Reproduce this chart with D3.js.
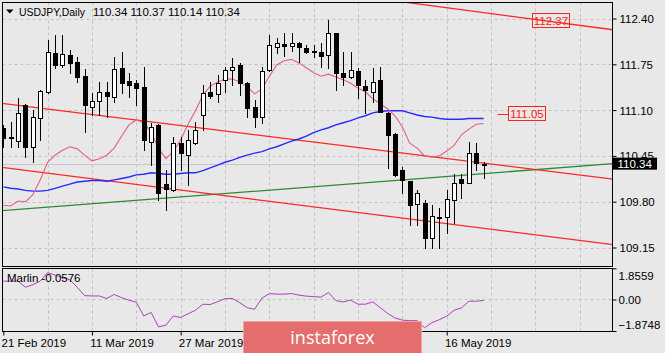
<!DOCTYPE html>
<html>
<head>
<meta charset="utf-8">
<title>USDJPY Daily</title>
<script src="https://cdn.jsdelivr.net/npm/d3@7"></script>
<style>
body { margin: 0; background: #e8e8e8; }
svg text { font-family: "Liberation Sans", Arial, sans-serif; font-size: 11.5px; fill: #000; }
</style>
</head>
<body>
<script>

var dates = ["2019-02-21","2019-02-22","2019-02-25","2019-02-26","2019-02-27","2019-02-28",
	"2019-03-01","2019-03-04","2019-03-05","2019-03-06","2019-03-07","2019-03-08",
	"2019-03-11","2019-03-12","2019-03-13","2019-03-14","2019-03-15","2019-03-18",
	"2019-03-19","2019-03-20","2019-03-21","2019-03-22","2019-03-25","2019-03-26",
	"2019-03-27","2019-03-28","2019-03-29","2019-04-01","2019-04-02","2019-04-03",
	"2019-04-04","2019-04-05","2019-04-08","2019-04-09","2019-04-10","2019-04-11",
	"2019-04-12","2019-04-15","2019-04-16","2019-04-17","2019-04-18","2019-04-19",
	"2019-04-22","2019-04-23","2019-04-24","2019-04-25","2019-04-26","2019-04-29",
	"2019-04-30","2019-05-01","2019-05-02","2019-05-03","2019-05-06","2019-05-07",
	"2019-05-08","2019-05-09","2019-05-10","2019-05-13","2019-05-14","2019-05-15",
	"2019-05-16","2019-05-17","2019-05-20","2019-05-21","2019-05-22","2019-05-23"];

var opens = [110.85,110.72,110.66,111.17,110.58,110.99,111.36,111.91,111.74,111.88,
	111.78,111.58,111.14,111.23,111.36,111.29,111.70,111.51,111.49,111.43,
	110.65,110.89,110.05,109.97,110.63,110.46,110.63,111.03,111.36,111.33,
	111.53,111.67,111.74,111.49,111.14,111.00,111.67,112.00,112.04,112.01,
	112.05,111.98,111.94,111.93,111.88,112.19,111.63,111.57,111.66,111.44,
	111.36,111.53,111.06,110.76,110.25,110.09,109.77,109.78,109.29,109.58,
	109.58,109.82,110.12,110.07,110.49,110.34];
var highs = [110.89,110.93,111.27,111.18,111.10,111.38,112.10,112.17,112.17,111.95,
	111.85,111.68,111.34,111.50,111.50,111.85,111.93,111.63,111.53,111.71,
	110.92,110.90,110.25,110.72,110.72,110.82,110.93,111.46,111.50,111.60,
	111.71,111.84,111.77,111.50,111.24,111.71,112.17,112.12,112.19,112.19,
	112.06,112.02,112.02,112.05,112.38,112.20,111.93,111.93,111.70,111.53,
	111.70,111.71,111.07,110.77,110.29,110.10,109.97,109.82,109.75,109.71,
	109.97,110.19,110.19,110.65,110.63,110.37];
var lows = [110.58,110.58,110.58,110.43,110.36,110.68,111.34,111.70,111.71,111.63,
	111.50,110.79,111.03,111.03,111.00,111.22,111.34,111.29,111.17,110.53,
	110.32,109.82,109.68,109.95,110.25,110.04,110.62,110.82,111.27,111.22,
	111.36,111.46,111.31,111.00,110.86,110.92,111.66,111.91,111.87,111.94,
	111.78,111.91,111.85,111.71,111.70,111.39,111.46,111.56,111.27,111.06,
	111.22,111.07,110.28,110.16,109.92,109.47,109.47,109.14,109.14,109.14,
	109.36,109.50,109.85,110.06,110.25,110.14];
var closes = [110.70,110.70,111.06,110.58,111.00,111.37,111.93,111.74,111.90,111.77,
	111.57,111.17,111.23,111.36,111.30,111.68,111.49,111.46,111.41,110.68,
	110.86,109.92,109.98,110.63,110.49,110.68,110.82,111.34,111.30,111.49,
	111.67,111.71,111.49,111.13,111.00,111.66,112.02,112.05,112.01,112.05,
	112.00,111.93,111.93,111.87,112.19,111.63,111.57,111.67,111.46,111.39,
	111.50,111.07,110.75,110.18,110.11,109.75,109.92,109.29,109.60,109.57,
	109.84,110.07,110.07,110.49,110.35,110.34];

// fast (pink) and slow (blue) moving averages
var maFast = [109.75,109.74,109.81,109.80,109.90,110.11,110.36,110.46,110.53,110.58,
	110.55,110.46,110.38,110.41,110.46,110.56,110.73,110.89,110.96,110.92,
	110.79,110.56,110.41,110.51,110.68,110.90,111.09,111.31,111.44,111.50,
	111.54,111.54,111.50,111.43,111.33,111.40,111.58,111.74,111.80,111.82,
	111.77,111.70,111.63,111.58,111.61,111.57,111.53,111.48,111.41,111.36,
	111.26,111.19,111.12,111.02,110.86,110.63,110.56,110.45,110.43,110.45,
	110.52,110.60,110.75,110.83,110.90,110.91];
var maSlow = [110.01,109.99,109.98,109.96,109.95,109.95,109.96,109.99,110.02,110.05,
	110.08,110.09,110.10,110.10,110.09,110.11,110.13,110.15,110.18,110.19,
	110.21,110.20,110.19,110.19,110.20,110.21,110.21,110.24,110.28,110.32,
	110.36,110.39,110.43,110.46,110.49,110.51,110.55,110.58,110.62,110.66,
	110.69,110.73,110.78,110.82,110.85,110.89,110.92,110.95,110.99,111.02,
	111.06,111.08,111.09,111.09,111.09,111.06,111.03,111.01,111.00,110.98,
	110.97,110.97,110.97,110.98,110.98,110.98];

var marlin = [1.09,1.09,1.09,0.73,0.88,1.09,1.60,1.45,1.30,1.18,
	0.73,0.23,0.21,0.21,0.06,0.30,0.11,-0.04,-0.16,-0.98,
	-0.77,-1.63,-1.53,-0.98,-1.07,-0.85,-0.64,-0.28,-0.30,-0.13,
	0.05,0.06,-0.19,-0.49,-0.58,0.08,0.35,0.32,0.32,0.35,
	0.26,0.20,0.17,0.14,0.42,-0.07,-0.14,-0.04,-0.28,-0.28,
	-0.14,-0.49,-0.82,-1.10,-1.23,-1.26,-1.26,-1.68,-1.38,-1.20,
	-0.99,-0.64,-0.50,-0.10,-0.10,-0.0576];

var priceTicks = [112.40, 111.75, 111.10, 110.45, 109.80, 109.15];
var marlinTicks = [1.8559, 0, -1.8748];
var dateTickIdx = [0, 12, 24, 36, 48, 60];
var dateLabelIdx = [0, 12, 24, 60]; // the other two sit under the watermark

// trend lines: [bar index, price, bar index, price]
var redLines = [[-0.45, 111.20, 82.5, 110.12], [-0.45, 110.29, 82.5, 109.19], [52.3, 112.66, 82.5, 112.24]];
var greenLines = [[-0.45, 109.67, 82.5, 110.34]];

var last = {o: 110.34, h: 110.37, l: 110.14, c: 110.34};
var levelLabels = [{i: 71.5, p: 112.37, line: false}, {i: 68.3, p: 111.05, line: true}];

var W = 665, H = 353;
var left = 2.5, right = 612.5, mainTop = 2.5, mainBot = 266.5, indTop = 268.5, indBot = 331.5;

var svg = d3.select("body").append("svg").attr("width", W).attr("height", H);
svg.append("rect").attr("width", W).attr("height", H).attr("fill", "#e8e8e8");

var x = d3.scaleLinear().domain([0, 82.5]).range([3.3, 613]);
var y = d3.scaleLinear().domain([109.15, 112.40]).range([247.5, 18.5]);
var ym = d3.scaleLinear().domain([-1.8748, 1.8559]).range([331, 268.3]);

var defs = svg.append("defs");
defs.append("clipPath").attr("id", "clipMain").append("rect")
	.attr("x", left).attr("y", mainTop).attr("width", right - left).attr("height", mainBot - mainTop);
defs.append("clipPath").attr("id", "clipInd").append("rect")
	.attr("x", left).attr("y", indTop).attr("width", right - left).attr("height", indBot - indTop);

// grid
var gridIdx = d3.range(6, 82, 6);
var grid = svg.append("g").attr("stroke", "#c2c2c2").attr("stroke-dasharray", "3,3").attr("stroke-width", 1);
gridIdx.forEach(function(i) {
	var gx = Math.round(x(i)) + 0.5;
	grid.append("line").attr("x1", gx).attr("x2", gx).attr("y1", mainTop).attr("y2", mainBot);
	grid.append("line").attr("x1", gx).attr("x2", gx).attr("y1", indTop).attr("y2", indBot);
});
priceTicks.forEach(function(p) {
	var gy = Math.round(y(p)) + 0.5;
	grid.append("line").attr("x1", left).attr("x2", right).attr("y1", gy).attr("y2", gy);
});
grid.append("line").attr("x1", left).attr("x2", right)
	.attr("y1", Math.round(ym(0)) + 0.5).attr("y2", Math.round(ym(0)) + 0.5);

var main = svg.append("g").attr("clip-path", "url(#clipMain)");

// bid line
var by = Math.round(y(last.c)) + 0.5;
main.append("line").attr("x1", left).attr("x2", right).attr("y1", by).attr("y2", by)
	.attr("stroke", "#c8c8c8").attr("stroke-width", 1);

// trend lines
greenLines.forEach(function(l) {
	main.append("line").attr("x1", x(l[0])).attr("y1", y(l[1])).attr("x2", x(l[2])).attr("y2", y(l[3]))
		.attr("stroke", "#2f8a2f").attr("stroke-width", 1.3);
});
redLines.forEach(function(l) {
	main.append("line").attr("x1", x(l[0])).attr("y1", y(l[1])).attr("x2", x(l[2])).attr("y2", y(l[3]))
		.attr("stroke", "#ff2626").attr("stroke-width", 1.3);
});

// moving averages
var maLine = d3.line().x(function(d, i) { return x(i); }).y(function(d) { return y(d); });
main.append("path").datum(maSlow).attr("d", maLine).attr("fill", "none").attr("stroke", "#2a2aff").attr("stroke-width", 1.4);
main.append("path").datum(maFast).attr("d", maLine).attr("fill", "none").attr("stroke", "#e4607a").attr("stroke-width", 1.1);

// candles
var candles = main.append("g");
dates.forEach(function(d, i) {
	var cx = Math.round(x(i));
	candles.append("line").attr("x1", cx + 0.5).attr("x2", cx + 0.5)
		.attr("y1", Math.round(y(highs[i]))).attr("y2", Math.round(y(lows[i])) + 1)
		.attr("stroke", "#000").attr("stroke-width", 1);
	var top = Math.round(y(Math.max(opens[i], closes[i])));
	var bot = Math.round(y(Math.min(opens[i], closes[i])));
	var bull = closes[i] > opens[i];
	candles.append("rect").attr("x", cx - 1.5).attr("y", top + 0.5)
		.attr("width", 4).attr("height", Math.max(bot - top, 1))
		.attr("fill", bull ? "#fff" : "#000").attr("stroke", "#000").attr("stroke-width", 1);
});

// level labels
levelLabels.forEach(function(l) {
	var lx = Math.round(x(l.i)) + 0.5, ly = Math.round(y(l.p));
	if (l.line) {
		svg.append("line").attr("x1", lx - 11).attr("x2", lx).attr("y1", ly + 0.5).attr("y2", ly + 0.5)
			.attr("stroke", "#ff2626").attr("stroke-width", 1);
	}
	svg.append("rect").attr("x", lx).attr("y", ly - 7.5).attr("width", 37).attr("height", 14)
		.attr("fill", "none").attr("stroke", "#ff2020").attr("stroke-width", 1);
	svg.append("text").attr("x", lx + 18.5).attr("y", ly + 4).attr("text-anchor", "middle")
		.style("fill", "#ff2020").text(l.p.toFixed(2));
});

// indicator
var ind = svg.append("g").attr("clip-path", "url(#clipInd)");
ind.append("path").datum(marlin)
	.attr("d", d3.line().x(function(d, i) { return x(i); }).y(function(d) { return ym(d); }))
	.attr("fill", "none").attr("stroke", "#b13dbf").attr("stroke-width", 1);
svg.append("text").attr("x", 7).attr("y", 282).text("Marlin -0.0576");

// panel borders
svg.append("rect").attr("x", left).attr("y", mainTop).attr("width", right - left).attr("height", mainBot - mainTop)
	.attr("fill", "none").attr("stroke", "#000");
svg.append("rect").attr("x", left).attr("y", indTop).attr("width", right - left).attr("height", indBot - indTop)
	.attr("fill", "none").attr("stroke", "#000");

// price axis
var yAxis = svg.append("g").attr("transform", "translate(" + right + ",0)")
	.call(d3.axisRight(y).tickValues(priceTicks).tickFormat(d3.format(".2f")).tickSize(4).tickPadding(3));
yAxis.select(".domain").remove();
yAxis.selectAll("text").attr("dy", "0.35em").style("font-size", "11.5px").style("font-family", "Liberation Sans, Arial, sans-serif");

var mAxis = svg.append("g").attr("transform", "translate(" + right + ",0)")
	.call(d3.axisRight(ym).tickValues(marlinTicks).tickFormat(function(d) { return d === 0 ? "0.00" : d3.format(".4f")(d); }).tickSize(4).tickPadding(2));
mAxis.select(".domain").remove();
mAxis.selectAll("text").style("font-size", "11.5px").style("font-family", "Liberation Sans, Arial, sans-serif")
	.attr("y", function(d) { return d > 0 ? 8 - ym(d) + 268.3 : (d < 0 ? -6 - ym(d) + 331 : 0); });

// last price tag
svg.append("rect").attr("x", right + 0.5).attr("y", y(last.c) - 6).attr("width", 44).attr("height", 12).attr("fill", "#000");
svg.append("text").attr("x", right + 5).attr("y", y(last.c) + 4.5).style("fill", "#fff").text(last.c.toFixed(2));

// date axis
var fmt = d3.timeFormat("%-d %b %Y"), parse = d3.timeParse("%Y-%m-%d");
var xAxis = svg.append("g").attr("transform", "translate(0," + indBot + ")")
	.call(d3.axisBottom(x).tickValues(dateTickIdx)
		.tickFormat(function(i) { return dateLabelIdx.indexOf(i) >= 0 ? fmt(parse(dates[i])) : ""; })
		.tickSize(4).tickPadding(3));
xAxis.select(".domain").remove();
xAxis.selectAll("text").attr("text-anchor", "start").attr("dx", "-0.2em")
	.style("font-size", "11.5px").style("font-family", "Liberation Sans, Arial, sans-serif");

// title
svg.append("path").attr("d", "M6,9.5 L13.5,9.5 L9.75,13.5 Z").attr("fill", "#000");
svg.append("text").attr("x", 19).attr("y", 16).attr("textLength", 66).attr("lengthAdjust", "spacingAndGlyphs")
	.text("USDJPY,Daily");
svg.append("text").attr("x", 93).attr("y", 16)
	.text([last.o, last.h, last.l, last.c].map(function(v) { return v.toFixed(2); }).join(" "));

// watermark
svg.append("rect").attr("x", 243.5).attr("y", 321.5).attr("width", 178).attr("height", 33)
	.attr("fill", "#e46d6d").attr("stroke", "#f1a3a3").attr("stroke-width", 1);
svg.append("text").attr("x", 332.5).attr("y", 344).attr("text-anchor", "middle")
	.style("font-family", "'Open Sans', sans-serif").style("font-size", "18px").style("fill", "#fff")
	.text("instaforex");

</script>
</body>
</html>
